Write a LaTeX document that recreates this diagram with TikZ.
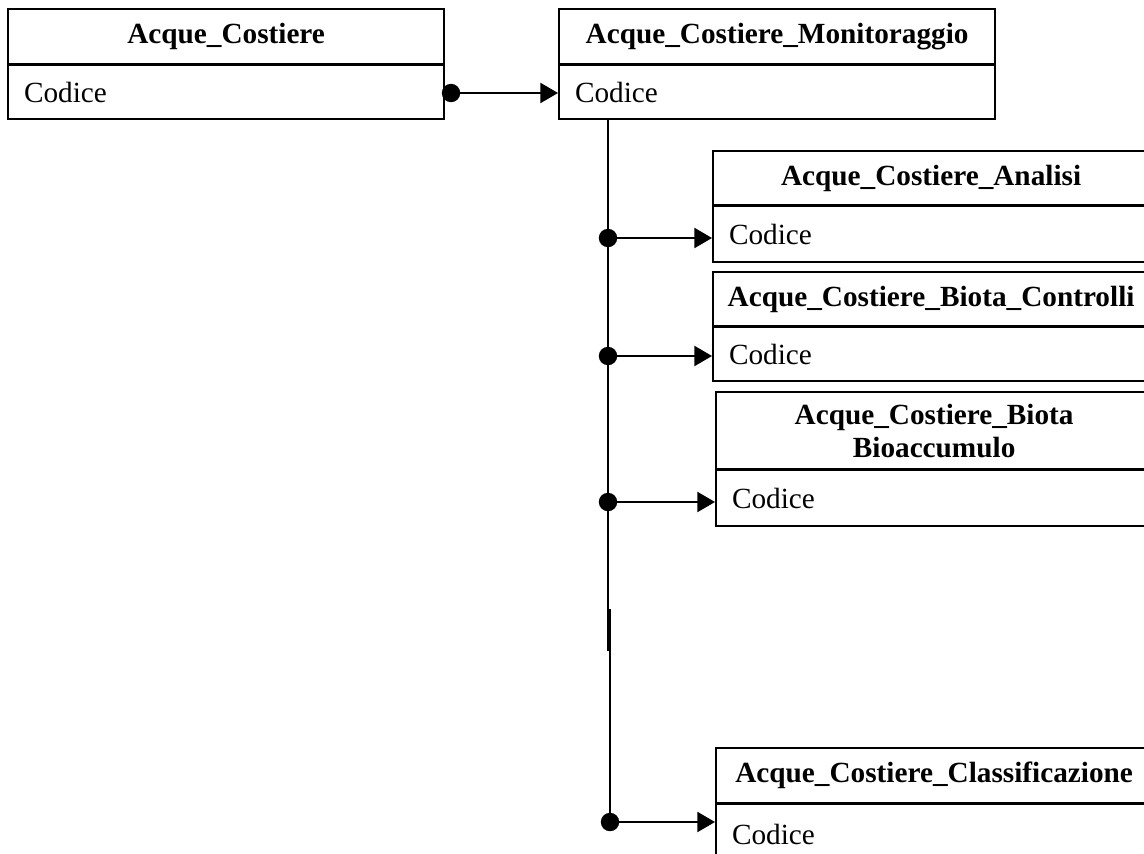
\documentclass[tikz,border=0pt]{standalone}
\usepackage{fontspec}
\setmainfont{Liberation Serif}
\usetikzlibrary{arrows.meta,positioning}
\tikzset{
  tblhead/.style={draw,line width=1.5pt,anchor=north west,inner sep=0pt,
                  minimum width=10.9cm,minimum height=1.375cm,text width=10.7cm,
                  align=center,font=\fontsize{20.8}{23.5}\selectfont\bfseries},
  tblrow/.style={draw,line width=1.5pt,anchor=north west,inner xsep=0.4cm,inner ysep=0pt,
                 minimum width=10.9cm,minimum height=1.375cm,text width=10.1cm,
                 align=left,font=\fontsize{20.8}{23.5}\selectfont},
  joint/.style={circle,fill,inner sep=0pt,minimum size=0.46cm},
  link/.style={-{Triangle[length=0.44cm,width=0.5cm]},line width=1.4pt},
  trunk/.style={line width=1.5pt},
}

\begin{document}
\begin{tikzpicture}[x=0.025cm,y=-0.025cm]
            \useasboundingbox (0,0) rectangle (1144,854);
            \clip (0,0) rectangle (1144,854);

            % tables
            \node[tblhead] (ac) at (7,8) {Acque\_Costiere};
            \node[tblrow, minimum height=1.35cm] (ac-row) at ([yshift=0.6pt]ac.south west) {Codice};

            \node[tblhead] (mon) at (558,8) {Acque\_Costiere\_Monitoraggio};
            \node[tblrow, minimum height=1.35cm] (mon-row) at ([yshift=0.6pt]mon.south west) {Codice};

            \node[tblhead, minimum height=1.35cm] (anl) at (712,150) {Acque\_Costiere\_Analisi};
            \node[tblrow, minimum height=1.4cm] (anl-row) at ([yshift=0.6pt]anl.south west) {Codice};

            \node[tblhead, minimum height=1.35cm] (bctl) at (712,271) {Acque\_Costiere\_Biota\_Controlli};
            \node[tblrow, minimum height=1.35cm] (bctl-row) at ([yshift=0.6pt]bctl.south west) {Codice};

            \node[tblhead, minimum height=1.925cm] (bacc) at (715,391) {Acque\_Costiere\_Biota\\Bioaccumulo};
            \node[tblrow, minimum height=1.4cm] (bacc-row) at ([yshift=0.6pt]bacc.south west) {Codice};

            \node[tblhead] (cls) at (715,747) {Acque\_Costiere\_Classificazione};
            \node[tblrow, minimum height=1.5cm] (cls-row) at ([yshift=0.6pt]cls.south west) {Codice};

            % trunk and joints
            \node[joint] (d0) at (451,93) {};
            \node[joint] (dA) at (608,238) {};
            \node[joint] (dB) at (608,356) {};
            \node[joint] (dC) at (608,502) {};
            \node[joint] (dD) at (610,822) {};
            \coordinate (kinkA) at (608,651);
            \coordinate (kinkB) at (610,609);

            \draw[trunk] (mon-row.south -| dA) -- (kinkA);
            \draw[trunk] (kinkB) -- (dD.center);

            \draw[link] (d0.center) -- (d0 -| mon-row.west);
            \draw[link] (dA.center) -- (dA -| anl-row.west);
            \draw[link] (dB.center) -- (dB -| bctl-row.west);
            \draw[link] (dC.center) -- (dC -| bacc-row.west);
            \draw[link] (dD.center) -- (dD -| cls-row.west);
          \end{tikzpicture}
\end{document}
